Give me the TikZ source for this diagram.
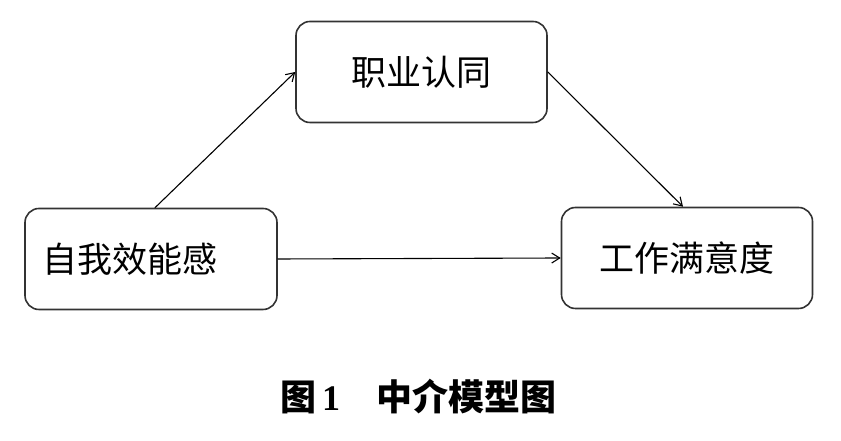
\documentclass[tikz,border=0pt]{standalone}
\usepackage{fontspec}
\newfontfamily\cjk{Noto Sans CJK SC}
\newfontfamily\numfont{Liberation Serif}
\usetikzlibrary{positioning, calc}
\usetikzlibrary{arrows.meta}

\tikzset{
  varbox/.style={draw=black!80, line width=1.6pt, rounded corners=14pt,
    minimum width=251pt, minimum height=101pt, inner sep=0pt,
    font=\fontsize{35}{40}\selectfont\cjk},
  pathline/.style={line width=1.1pt, -{Straight Barb[length=8pt,width=10pt]}}
}

\begin{document}
\begin{tikzpicture}[x=1pt, y=1pt, line cap=round]
\useasboundingbox (0,0) rectangle (841,441);

% Variabili
\node[varbox] (med) at (421.5,369) {职业认同};
\node[varbox, text width=218pt, inner xsep=17pt, align=left] (ind) at (151,182) {自我效能感};
\node[varbox] (dep) at (687,183) {工作满意度};

% Percorsi
\draw[pathline] (ind.north -| 155,0) -- (med.west);
\draw[pathline] (med.east) -- (dep.north -| 683,0);
\draw[pathline] (ind.east) -- (dep.west);

% Didascalia
\node[font=\fontsize{36}{40}\selectfont\bfseries] (cap) at (418,44)
  {\cjk 图\,\numfont 1\cjk 　中介模型图};

\end{tikzpicture}
\end{document}
